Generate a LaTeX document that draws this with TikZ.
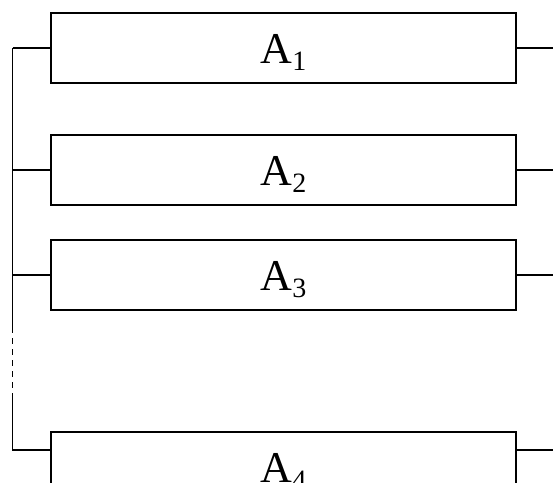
\documentclass[tikz,border=0pt]{standalone}
\usepackage{fontspec}
\setmainfont{Liberation Serif}
\newcommand{\lbl}[1]{\fontsize{44}{50}\selectfont A\raisebox{-7pt}{\fontsize{28}{30}\selectfont #1}}
\begin{document}
\begin{tikzpicture}[x=1pt,y=-1pt,
  blk/.style={draw=black,line width=1.9pt,rectangle,minimum width=465pt,minimum height=70pt,
    inner xsep=0pt,inner ysep=0pt,outer sep=0pt,text height=50pt,text depth=20pt,anchor=north west},
  wire/.style={line width=1.9pt}]
\useasboundingbox (0,0) rectangle (553,482);
\clip (0,0) rectangle (553,482);
\node[blk] (A1) at (51,13) {\lbl{1}};
\node[blk] (A2) at (51,135) {\lbl{2}};
\node[blk] (A3) at (51,240) {\lbl{3}};
\node[blk] (A4) at (51,432) {\lbl{4}};
\coordinate (b1) at (12.5,48);
\coordinate (b2) at (12.5,170);
\coordinate (b3) at (12.5,275);
\coordinate (b4) at (12.5,450);
\coordinate (c1) at (12.5,333);
\coordinate (c2) at (12.5,393);
\coordinate (r1) at (554,48);
\coordinate (r2) at (554,170);
\coordinate (r3) at (554,275);
\coordinate (r4) at (554,450);
\draw[wire] (b1) -- (A1.west |- b1);
\draw[wire] (b2) -- (A2.west |- b2);
\draw[wire] (b3) -- (A3.west |- b3);
\draw[wire] (A1.east |- r1) -- (r1);
\draw[wire] (A2.east |- r2) -- (r2);
\draw[wire] (A3.east |- r3) -- (r3);
\draw[wire] (A4.east |- r4) -- (r4);
\draw[wire] (b1) -- (c1);
\draw[wire,dash pattern=on 6pt off 5pt,dash phase=6pt] (c1) -- (c2);
\draw[wire] (c2) -- (b4) -- (A4.west |- b4);
\end{tikzpicture}
\end{document}
